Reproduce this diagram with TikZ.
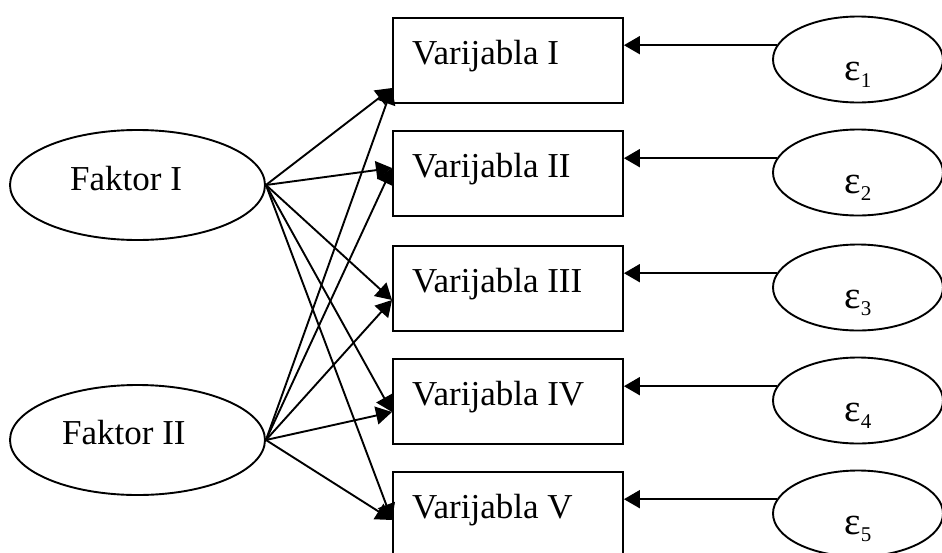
\documentclass[tikz,border=0pt]{standalone}
\usepackage{fontspec}
\setmainfont{Liberation Serif}
\usetikzlibrary{arrows.meta,shapes.geometric,calc}
\tikzset{
  ln/.style={line width=1.9pt, draw=black},
  arr/.style={ln, -{Triangle[length=16pt,width=18pt]}},
  boxn/.style={ln, rectangle, minimum width=230pt, minimum height=85pt, inner sep=0pt, anchor=north west},
  fakt/.style={ln, ellipse, minimum width=255pt, minimum height=110pt, inner sep=0pt},
  errn/.style={ln, ellipse, minimum width=170pt, minimum height=86pt, inner sep=0pt},
  txt/.style={inner sep=0pt, anchor=base west, font=\fontsize{35}{40}\selectfont},
  etxt/.style={inner sep=0pt, anchor=base, font=\fontsize{39}{44}\selectfont},
}
\newcommand{\epsi}[1]{ε{\fontsize{21}{21}\selectfont\raisebox{-7pt}{#1}}}
\begin{document}
\begin{tikzpicture}[x=1pt,y=-1pt]
\useasboundingbox (0,0) rectangle (942,552);
\clip (0,0) rectangle (942,552);
\fill[white] (0,0) rectangle (942,552);
% factors
\node[fakt] (f1) at (137.5,185) {};
\node[fakt] (f2) at (137.5,440) {};
\node[txt] (f1t) at (70,190) {Faktor I};
\node[txt] (f2t) at (62,444) {Faktor II};
% boxes
\node[boxn] (b1) at (392,17) {};
\node[boxn] (b2) at (392,130) {};
\node[boxn] (b3) at (392,245) {};
\node[boxn] (b4) at (392,358) {};
\node[boxn] (b5) at (392,471) {};
\node[txt] (b1t) at (412,64) {Varijabla I};
\node[txt] (b2t) at (412,177) {Varijabla II};
\node[txt] (b3t) at (412,292) {Varijabla III};
\node[txt] (b4t) at (412,405) {Varijabla IV};
\node[txt] (b5t) at (412,518) {Varijabla V};
% error ellipses
\node[errn] (e1) at (858,59.5) {};
\node[errn] (e2) at (858,172.5) {};
\node[errn] (e3) at (858,287.5) {};
\node[errn] (e4) at (858,400.5) {};
\node[errn] (e5) at (858,513.5) {};
\node[etxt] (e1t) at (858,80) {\epsi{1}};
\node[etxt] (e2t) at (858,193) {\epsi{2}};
\node[etxt] (e3t) at (858,308) {\epsi{3}};
\node[etxt] (e4t) at (858,421) {\epsi{4}};
\node[etxt] (e5t) at (858,534) {\epsi{5}};
% targets on box left edges
\coordinate (t1) at ($(b1.north west)+(0,71)$);
\coordinate (t2) at ($(b2.north west)+(0,38)$);
\coordinate (t3) at ($(b3.north west)+(0,55)$);
\coordinate (t4) at ($(b4.north west)+(0,54)$);
\coordinate (t5) at ($(b5.north west)+(0,49)$);
\foreach \i in {1,...,5}{
  \draw[arr] (f1.east) -- (t\i);
  \draw[arr] (f2.east) -- (t\i);
  \draw[arr] (e\i.170) -- (e\i.170 -| b\i.east);
}
\end{tikzpicture}
\end{document}
